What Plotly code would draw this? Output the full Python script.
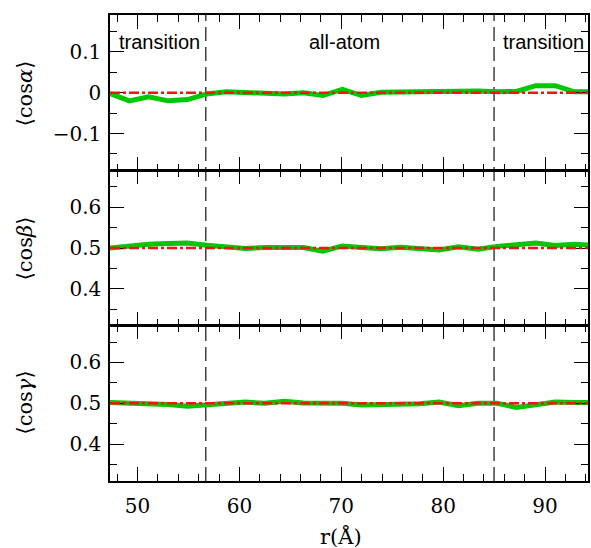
import plotly.graph_objects as go
from plotly.subplots import make_subplots

# bin centres, r in angstrom
r = [47.3, 49.2, 51.1, 53.0, 54.9, 56.8, 58.7, 60.6, 62.5, 64.4, 66.3, 68.2, 70.1,
     72.0, 73.9, 75.8, 77.7, 79.6, 81.5, 83.4, 85.3, 87.2, 89.1, 91.0, 92.9, 94.8]

cos_alpha = [-0.002, -0.020, -0.010, -0.020, -0.017, -0.003, 0.002, 0.000, -0.004,
             -0.003, 0.000, -0.007, 0.008, -0.007, 0.001, 0.002, 0.003, 0.005,
             0.005, 0.004, 0.002, 0.003, 0.017, 0.017, 0.002, 0.002]
cos_beta = [0.500, 0.505, 0.509, 0.511, 0.512, 0.507, 0.503, 0.499, 0.501, 0.500,
            0.501, 0.492, 0.505, 0.501, 0.498, 0.502, 0.499, 0.495, 0.503, 0.497,
            0.504, 0.508, 0.512, 0.506, 0.509, 0.507]
cos_gamma = [0.502, 0.501, 0.500, 0.497, 0.493, 0.496, 0.500, 0.503, 0.500, 0.505,
             0.501, 0.501, 0.500, 0.496, 0.497, 0.496, 0.499, 0.503, 0.494, 0.500,
             0.500, 0.490, 0.495, 0.503, 0.502, 0.502]

ref_levels = [0.0, 0.5, 0.5]          # isotropic values
boundaries = [56.7, 85.0]             # transition / all-atom borders
regions = ["transition", "all-atom", "transition"]
region_x = [52.2, 70.3, 89.85]
panel_titles = ["⟨cos<i>α</i>⟩", "⟨cos<i>β</i>⟩", "⟨cos<i>γ</i>⟩"]
y_ranges = [[-0.19, 0.19], [0.31, 0.69], [0.31, 0.69]]

serif = "DejaVu Serif, Liberation Serif, serif"

fig = make_subplots(rows=3, cols=1, shared_xaxes=True, vertical_spacing=0)

for i, ys in enumerate([cos_alpha, cos_beta, cos_gamma]):
    fig.add_trace(go.Scatter(x=r, y=ys, mode="lines",
                             line=dict(color="#00c800", width=5)),
                  row=i + 1, col=1)
    yname = "y" if i == 0 else f"y{i + 1}"
    xname = "x" if i == 0 else f"x{i + 1}"
    fig.add_shape(type="line", xref=f"{xname} domain", yref=yname,
                  x0=0, x1=1, y0=ref_levels[i], y1=ref_levels[i],
                  line=dict(color="#ff1010", width=2.5, dash="10px,3px,3px,3px"),
                  layer="above")

for b in boundaries:
    fig.add_shape(type="line", xref="x", yref="paper", x0=b, x1=b, y0=0, y1=1,
                  line=dict(color="#404040", width=1.5, dash="14px,6px"),
                  layer="below")

for txt, xx in zip(regions, region_x):
    fig.add_annotation(x=xx, y=0.124, xref="x", yref="y", text=txt,
                       showarrow=False,
                       font=dict(family="Liberation Sans", size=20, color="black"))

left, plot_w, plot_h = 110, 480, 466
centres = [93.5, 248.5, 402.7]
for t, c in zip(panel_titles, centres):
    fig.add_annotation(x=(24.5 - left) / plot_w, y=(481 - c) / plot_h,
                       xref="paper", yref="paper", text=t, showarrow=False,
                       textangle=-90, xanchor="center", yanchor="middle",
                       font=dict(family=serif, size=21, color="black"))

fig.add_annotation(x=(341.7 - left) / plot_w, y=(481 - 536) / plot_h,
                   xref="paper", yref="paper", text="r(Å)", showarrow=False,
                   xanchor="center", yanchor="middle",
                   font=dict(family=serif, size=21, color="black"))

axis_common = dict(showline=True, linecolor="black",
                   mirror="allticks", ticks="inside", tickcolor="black",
                   tickwidth=1, showgrid=False, zeroline=False,
                   tickfont=dict(family=serif, size=20, color="black"))

for i in range(3):
    fig.update_xaxes(range=[47.3, 94.22], dtick=10, ticklen=14, linewidth=1,
                     minor=dict(dtick=2, ticklen=7, ticks="inside",
                                tickcolor="black", showgrid=False),
                     row=i + 1, col=1, **axis_common)
    fig.update_yaxes(range=y_ranges[i], dtick=0.1, ticklen=14, linewidth=1.5,
                     minor=dict(dtick=0.05, ticklen=7, ticks="inside",
                                tickcolor="black", showgrid=False),
                     ticklabelstandoff=3,
                     row=i + 1, col=1, **axis_common)

fig.update_xaxes(ticklabelstandoff=6, linewidth=1.5, row=3, col=1)
fig.update_xaxes(linewidth=1.5, row=1, col=1)

fig.update_layout(width=591, height=548, showlegend=False,
                  margin=dict(l=left, r=1, t=15, b=67),
                  paper_bgcolor="white", plot_bgcolor="white")

# drop the browser's default 8px body margin so the figure sits at (0, 0)
fig.write_html("out.html", config={"displayModeBar": False},
               post_script="document.body.style.margin='0';")
